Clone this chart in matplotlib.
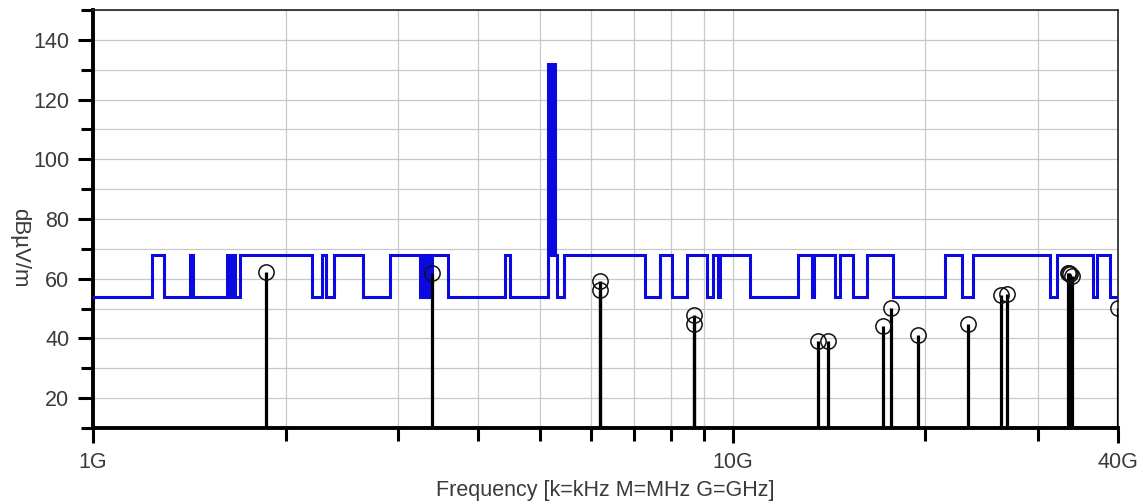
import matplotlib
matplotlib.use("Agg")
import matplotlib.pyplot as plt
from matplotlib.ticker import FixedLocator, NullFormatter

plt.rcParams['font.family'] = ['Liberation Sans', 'DejaVu Sans']

# limit line: frequency where each segment starts [GHz] and its level [dBuV/m]
limite_f = [1.0, 1.236, 1.291, 1.418, 1.433, 1.620, 1.632, 1.647, 1.667, 1.697,
            2.199, 2.280, 2.313, 2.380, 2.642, 2.912,
            3.244, 3.26, 3.28, 3.30, 3.32, 3.34, 3.36, 3.388,
            3.588, 4.406, 4.486,
            5.142, 5.17, 5.185, 5.215, 5.23, 5.273, 5.311, 5.447,
            7.293, 7.696, 8.035, 8.481, 9.114, 9.314, 9.482, 9.550,
            10.64, 12.65, 13.30, 13.40, 14.45, 14.71, 15.41, 16.21,
            17.80, 21.46, 22.82, 23.74, 31.32, 32.12, 36.56, 37.10, 38.87, 40.0]
limite_db = [54, 68, 54, 68, 54, 68, 54, 68, 54, 68,
             54, 68, 54, 68, 54, 68,
             54, 68, 54, 68, 54, 68, 54, 68,
             54, 68, 54,
             132, 68, 132, 68, 132, 68, 54, 68,
             54, 68, 54, 68, 54, 68, 54, 68,
             54, 68, 54, 68, 54, 68, 54, 68,
             54, 68, 54, 68, 54, 68, 54, 68, 54, 54]

# measured peaks
picos_f = [1.862, 3.384, 6.201, 6.201, 8.70, 8.70, 13.61, 14.11, 17.19, 17.65,
           19.45, 23.34, 26.22, 26.80, 33.40, 33.55, 33.70, 33.89, 40.0]
picos_db = [62.2, 61.8, 59.4, 56.1, 47.7, 44.9, 39.3, 39.3, 44.3, 50.3,
            41.0, 44.9, 54.4, 55.0, 62.0, 61.8, 61.5, 60.8, 50.3]

ticks_x = [1, 10, 40]
etiquetas_x = ['1G', '10G', '40G']
menores_x = [2, 3, 4, 5, 6, 7, 8, 9, 20, 30]

fig = plt.figure(figsize=(11.43, 5.04), dpi=100)
ax = fig.add_axes([93/1143, 1-428/504, (1118-93)/1143, (428-10)/504])

ax.set_xscale('log')
ax.set_xlim(1, 40)
ax.set_ylim(10, 150)

ax.xaxis.set_major_locator(FixedLocator(ticks_x))
ax.set_xticklabels(etiquetas_x)
ax.xaxis.set_minor_locator(FixedLocator(menores_x))
ax.xaxis.set_minor_formatter(NullFormatter())
ax.yaxis.set_major_locator(FixedLocator(range(20, 150, 20)))
ax.yaxis.set_minor_locator(FixedLocator(range(10, 151, 10)))

ax.grid(True, which='both', color='#c8c8c8', lw=0.9)
ax.set_axisbelow(True)

ax.step(limite_f, limite_db, where='post', color='#0a0ae0', lw=2.2,
        solid_joinstyle='miter', zorder=3)

ax.vlines(picos_f, 10, picos_db, color='black', lw=2.3, zorder=4)
ax.plot(picos_f, picos_db, 'o', ms=11, mfc='none', mec='#111111', mew=1.1, zorder=5)

for lado in ['left', 'bottom']:
    ax.spines[lado].set_linewidth(2.8)
for lado in ['top', 'right']:
    ax.spines[lado].set_linewidth(1.2)
    ax.spines[lado].set_color('#222222')

ax.tick_params(which='both', direction='out', width=2.2, colors='black',
               labelcolor='#3a3a3a', labelsize=15.5)
ax.tick_params(which='major', length=11, pad=6)
ax.tick_params(which='minor', length=9)

ax.set_xlabel('Frequency [k=kHz M=MHz G=GHz]', fontsize=15.5, color='#3a3a3a', labelpad=5)
fig.text(20/1143, 1-248/504, 'dBµV/m', rotation=270, fontsize=16, color='#3a3a3a',
         ha='center', va='center')

fig.savefig('out.png', dpi=100)
